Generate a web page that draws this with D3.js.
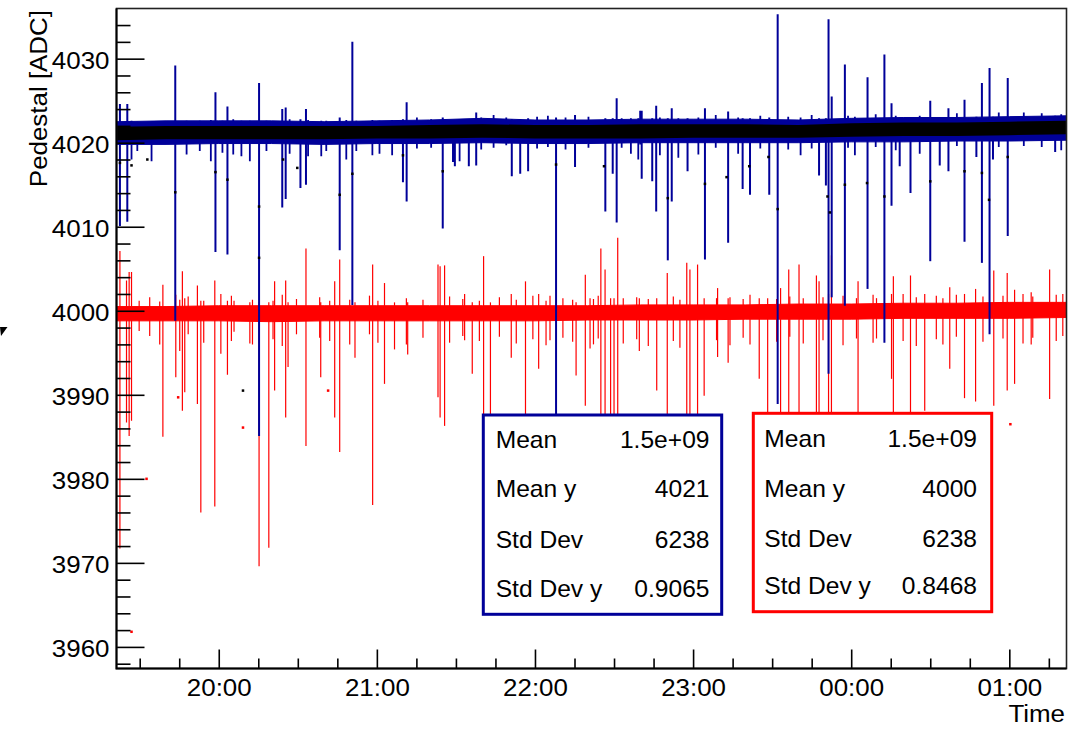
<!DOCTYPE html>
<html>
<head>
<meta charset="utf-8">
<script src="https://cdn.jsdelivr.net/npm/d3@7"></script>
<style>
body { margin: 0; background: #fff; }
text { font-family: "Liberation Sans", Arial, Helvetica, sans-serif; fill: #000; }
</style>
</head>
<body>
<svg id="main_svg" width="1081" height="730"></svg>
<script>
// times are minutes after 20:00, values in ADC
// band: [t, outer lo, core lo, core hi, outer hi]
var blueBand = [
  [-39, 4019.8, 4020.3, 4021.9, 4022.5], [-20, 4019.8, 4020.4, 4022.0, 4022.6],
  [0, 4019.9, 4020.4, 4022.0, 4022.6], [20, 4019.9, 4020.4, 4022.0, 4022.6],
  [40, 4019.8, 4020.4, 4022.0, 4022.5], [60, 4019.9, 4020.5, 4022.0, 4022.6],
  [80, 4019.9, 4020.5, 4022.1, 4022.7], [100, 4020.0, 4020.6, 4022.2, 4022.9],
  [120, 4019.9, 4020.5, 4022.1, 4022.7], [140, 4019.9, 4020.5, 4022.1, 4022.7],
  [160, 4020.0, 4020.5, 4022.2, 4022.8], [180, 4020.0, 4020.6, 4022.2, 4022.8],
  [200, 4020.0, 4020.6, 4022.2, 4022.8], [220, 4020.0, 4020.6, 4022.1, 4022.7],
  [240, 4020.1, 4020.7, 4022.3, 4022.9], [260, 4020.1, 4020.8, 4022.4, 4023.0],
  [280, 4020.2, 4020.8, 4022.4, 4023.0], [300, 4020.2, 4020.9, 4022.5, 4023.1],
  [322, 4020.3, 4021.0, 4022.6, 4023.2]
];
// [t, lo, hi]
var redBand = [
  [-39, 3998.8, 4000.5], [-20, 3998.8, 4000.5], [0, 3998.8, 4000.6], [20, 3998.7, 4000.6],
  [40, 3998.8, 4000.6], [60, 3998.8, 4000.6], [80, 3998.8, 4000.6], [100, 3998.8, 4000.6],
  [120, 3998.8, 4000.6], [140, 3998.9, 4000.6], [160, 3998.9, 4000.7], [180, 3998.9, 4000.7],
  [200, 3999.0, 4000.7], [220, 3999.0, 4000.8], [240, 3999.0, 4000.8], [260, 3999.1, 4000.9],
  [280, 3999.1, 4000.9], [300, 3999.1, 4001.0], [322, 3999.2, 4001.0]
];
// error bars sticking out of the band: [t, lo, hi]
var blueSpikes = [
  [-37.5, 4010.1, 4024.6], [-34.7, 4010.6, 4024.6], [-16.5, 3998.8, 4029.2], [-1.25, 4007.0, 4026.0],
  [3.3, 4006.7, 4024.3], [15.3, 3985.1, 4027.1], [24.1, 4012.3, 4024.0], [25.4, 4013.3, 4024.2],
  [31.0, 4014.6, 4022.8], [33.1, 4015.0, 4024.0], [45.9, 4007.2, 4023.0], [50.7, 4000.7, 4032.0],
  [69.9, 4015.3, 4022.8], [71.3, 4013.0, 4024.8], [85.0, 4009.8, 4023.0], [88.9, 4017.7, 4022.7],
  [89.6, 4017.2, 4022.7], [94.9, 4017.2, 4022.8], [97.7, 4017.3, 4023.6], [111.2, 4016.0, 4022.8],
  [114.4, 4016.3, 4022.8], [117.4, 4016.6, 4022.9], [128.0, 3985.0, 4023.0], [135.2, 4017.1, 4023.3],
  [146.7, 4011.8, 4022.9], [149.5, 4016.3, 4022.9], [151.0, 4010.5, 4025.3], [160.5, 4015.7, 4023.8],
  [164.5, 4015.4, 4022.9], [166.0, 4011.8, 4024.4], [170.4, 4006.0, 4022.9], [171.9, 4013.0, 4024.1],
  [177.9, 4016.6, 4022.9], [184.5, 4006.1, 4024.1], [193.3, 4008.1, 4023.7], [198.8, 4014.5, 4022.9],
  [201.6, 4013.8, 4022.9], [208.9, 4013.8, 4023.0], [212.1, 3988.9, 4035.3], [227.8, 4016.1, 4022.9],
  [230.4, 4014.9, 4022.9], [231.4, 3992.5, 4034.7], [232.6, 4001.6, 4025.5], [237.6, 4000.6, 4029.3],
  [246.2, 4002.6, 4027.8], [252.6, 3996.2, 4030.5], [255.3, 4012.5, 4024.7], [258.4, 4017.2, 4023.0],
  [262.5, 4014.0, 4023.0], [270.0, 4005.9, 4025.0], [273.6, 4017.3, 4023.0], [276.9, 4016.6, 4024.1],
  [283.0, 4008.2, 4025.1], [287.5, 4018.3, 4023.1], [289.6, 4005.7, 4027.1], [292.5, 3997.2, 4028.9],
  [293.8, 4018.0, 4023.1], [299.4, 4008.9, 4027.7], [317.4, 4018.9, 4023.2]
];
var blueMinor = [
  [-33.1, 4018.0, 4022.6], [-30.9, 4019.0, 4022.5], [-25.5, 4017.8, 4022.5], [-12.2, 4018.6, 4022.6],
  [-7.2, 4019.0, 4022.6], [-3.0, 4017.8, 4022.7], [1.4, 4018.8, 4022.6], [5.5, 4018.6, 4022.8],
  [8.6, 4018.4, 4022.6], [11.8, 4017.8, 4022.6], [18.1, 4019.0, 4022.6], [26.9, 4018.7, 4022.8],
  [33.9, 4018.4, 4022.7], [38.9, 4018.4, 4022.6], [40.8, 4019.0, 4022.6], [48.4, 4018.0, 4022.7],
  [52.2, 4019.0, 4022.6], [58.3, 4018.5, 4022.7], [61.0, 4018.7, 4022.6], [65.8, 4018.5, 4022.7],
  [75.2, 4019.3, 4023.0], [80.6, 4019.4, 4022.8], [91.4, 4017.8, 4022.8], [99.6, 4019.2, 4023.0],
  [104.3, 4019.4, 4023.3], [109.1, 4019.7, 4023.0], [120.8, 4019.3, 4023.1], [124.9, 4019.5, 4023.2],
  [131.6, 4019.2, 4023.0], [140.3, 4019.4, 4023.1],
  [152.9, 4019.4, 4022.9], [156.4, 4018.7, 4022.9], [159.2, 4018.0, 4022.9], [159.9, 4019.8, 4023.8],
  [167.4, 4018.5, 4023.0], [174.4, 4018.2, 4022.9], [182.0, 4018.6, 4023.0], [188.6, 4019.4, 4023.3],
  [197.1, 4018.7, 4023.0], [205.5, 4019.3, 4023.2], [216.1, 4019.2, 4023.1], [220.8, 4018.5, 4023.0],
  [225.0, 4019.3, 4023.3], [238.8, 4019.4, 4023.2], [241.4, 4018.5, 4023.1], [249.3, 4019.5, 4023.4],
  [256.9, 4019.1, 4023.2], [266.0, 4018.7, 4023.2], [280.1, 4019.6, 4023.5], [296.0, 4019.5, 4023.6],
  [305.5, 4019.6, 4023.6], [312.3, 4019.5, 4023.5], [319.7, 4019.1, 4023.4]
];
// [t, value]
var blueMarkers = [
  [-37.5, 4017.6], [-33.1, 4017.3], [-27.1, 4018.0], [-16.5, 4014.1], [-1.25, 4016.5], [3.3, 4015.6],
  [9.2, 3990.5], [15.3, 4012.4], [15.3, 4006.3], [24.4, 4018.0], [29.8, 4017.0], [45.9, 4013.8],
  [50.7, 4016.3], [69.9, 4018.5], [85.0, 4016.6], [128.0, 4017.4], [146.2, 4017.2], [170.4, 4013.4],
  [184.5, 4015.1], [192.7, 4015.9], [201.3, 4017.2], [208.6, 4018.3], [212.1, 4012.1], [231.0, 4013.6],
  [231.9, 4011.7], [237.6, 4015.0], [246.0, 4015.2], [252.6, 4013.6], [270.0, 4015.4], [283.0, 4016.6],
  [289.6, 4016.4], [292.3, 4013.2], [299.4, 4018.3]
];
var redSpikes = [
  [-37.5, 3971.7, 4007.1], [-35.0, 3986.7, 4003.6], [-34.0, 3985.1, 4004.6], [-33.1, 3986.9, 4004.6],
  [-21.2, 3985.0, 4003.1], [-16.3, 3992.1, 4001.9], [-13.8, 3988.1, 4004.7], [-12.9, 3990.3, 4001.5],
  [-8.1, 3988.9, 4003.0], [-6.8, 3976.0, 4001.2], [-1.5, 3976.7, 4003.6], [0.8, 3994.9, 4002.0],
  [3.3, 3992.4, 4001.2], [5.8, 3997.5, 4001.2], [11.8, 3996.1, 4001.0], [15.3, 3969.6, 4001.0],
  [19.0, 3971.8, 4001.0], [21.2, 3990.5, 4003.5], [25.4, 3987.3, 4003.6], [26.3, 3993.3, 4001.0],
  [33.1, 3983.9, 4007.4], [38.7, 3992.1, 4001.0], [44.0, 3987.3, 4003.5], [45.9, 3983.2, 4006.1],
  [51.7, 3994.4, 4001.0], [58.4, 3976.9, 4005.5], [62.9, 3991.3, 4003.3], [66.7, 3995.4, 4001.0],
  [71.7, 3994.8, 4001.0], [83.2, 3989.7, 4005.5], [84.0, 3987.3, 4005.3], [85.7, 3986.3, 4005.4],
  [93.3, 3996.5, 4002.0], [96.2, 3992.5, 4001.0], [100.5, 3987.7, 4006.5], [103.1, 3985.0, 4001.0],
  [111.0, 3994.4, 4002.0], [116.4, 3985.0, 4003.5], [121.4, 3993.1, 4002.0], [125.7, 3996.5, 4001.8],
  [135.6, 3992.3, 4001.0], [139.1, 3988.7, 4004.3], [140.9, 3995.5, 4001.5], [145.0, 3985.0, 4007.4],
  [146.6, 3985.0, 4004.9], [148.7, 3985.0, 4001.5], [150.0, 3985.0, 4001.5], [151.4, 3985.0, 4008.7],
  [159.6, 3995.2, 4001.5], [166.2, 3990.5, 4001.5], [170.2, 3985.0, 4004.5], [177.6, 3985.0, 4005.7],
  [178.8, 3985.0, 4004.9], [181.7, 3985.0, 4005.5], [184.2, 3989.9, 4001.5], [189.3, 3994.5, 4002.7],
  [193.3, 3993.8, 4001.5], [205.1, 3991.9, 4001.5], [208.3, 3985.0, 4001.5], [213.2, 3985.0, 4002.7],
  [216.3, 3985.0, 4004.9], [220.2, 3985.0, 4005.5], [226.8, 3985.0, 4004.2], [227.8, 3985.0, 4003.5],
  [231.4, 3985.0, 4002.0], [232.5, 3985.0, 4006.6], [242.6, 3985.0, 4003.5], [249.6, 3996.7, 4001.5],
  [255.3, 3991.9, 4002.0], [256.0, 3985.0, 4004.1], [262.5, 3985.0, 4004.2], [267.9, 3988.1, 4002.0],
  [277.4, 3993.1, 4002.8], [283.0, 3989.6, 4002.0], [287.2, 3989.2, 4002.6], [294.1, 3988.7, 4004.8],
  [299.2, 3990.5, 4004.5], [302.0, 3991.3, 4002.5], [308.3, 3996.0, 4002.2], [315.3, 3989.5, 4004.9],
  [320.3, 3997.0, 4002.0]
];
// short red error bars around the band
var redMinor = [
  [-30.2, 3997.6, 4001.2], [-26.2, 3997.0, 4001.6], [-22.4, 3996.0, 4001.1], [-14.8, 3995.2, 4001.3],
  [-11.6, 3997.2, 4001.7], [-5.7, 3996.2, 4001.2], [4.8, 3996.4, 4001.8], [12.8, 3996.0, 4001.3],
  [20.6, 3996.6, 4001.2], [24.1, 3995.8, 4001.9], [29.5, 3997.2, 4001.4], [38.3, 3996.8, 4001.6],
  [42.1, 3996.4, 4001.2], [49.7, 3996.0, 4001.3], [57.2, 3997.2, 4001.8], [60.4, 3996.2, 4001.2],
  [71.2, 3996.0, 4001.5], [77.5, 3996.8, 4001.3], [87.6, 3996.2, 4001.7], [92.6, 3997.0, 4001.4],
  [98.9, 3996.4, 4001.2], [106.5, 3996.9, 4001.6], [112.9, 3996.1, 4001.3], [119.2, 3996.6, 4001.8],
  [124.2, 3995.9, 4001.2], [130.6, 3996.8, 4001.5], [134.3, 3996.3, 4001.3], [142.2, 3996.0, 4001.4],
  [144.0, 3996.7, 4001.8], [153.5, 3996.1, 4001.5], [158.6, 3996.6, 4001.6], [163.0, 3995.8, 4001.4],
  [172.5, 3996.4, 4001.7], [175.0, 3995.6, 4001.3], [188.9, 3996.5, 4001.5], [194.0, 3995.9, 4001.6],
  [199.0, 3996.8, 4001.4], [201.6, 3996.0, 4001.9], [211.7, 3996.3, 4001.4], [216.7, 3996.9, 4001.7],
  [221.8, 3996.1, 4001.5], [229.3, 3996.5, 4001.6], [236.9, 3995.9, 4001.8], [242.0, 3996.7, 4001.5],
  [248.3, 3996.2, 4001.9], [259.7, 3996.4, 4002.0], [264.7, 3995.8, 4001.6], [272.3, 3996.6, 4001.8],
  [274.8, 3996.0, 4001.5], [279.9, 3996.9, 4001.9], [290.0, 3996.3, 4001.7], [297.6, 3996.7, 4001.8],
  [305.2, 3996.1, 4002.0], [308.9, 3996.8, 4001.7], [317.8, 3996.4, 4001.9]
];
var redMarkers = [
  [-33.1, 3961.8], [-27.4, 3980.0], [-15.4, 3989.7], [9.2, 3986.1], [41.5, 3990.5], [300.4, 3986.5]
];

var yTicks = [3960, 3970, 3980, 3990, 4000, 4010, 4020, 4030];
var xTicks = [0, 60, 120, 180, 240, 300];
var xTickLabels = ["20:00", "21:00", "22:00", "23:00", "00:00", "01:00"];

var statLabels = ["Mean", "Mean y", "Std Dev", "Std Dev y"];
var blueStats = ["1.5e+09", "4021", "6238", "0.9065"];
var redStats = ["1.5e+09", "4000", "6238", "0.8468"];

var blueColor = "#000099", redColor = "#ff0000";
var textScale = 1.08;
var frame = {left: 116.5, right: 1066.5, top: 8.5, bottom: 668.5};
var base = Date.UTC(2017, 6, 13, 20, 0, 0);
function toDate(m) { return new Date(base + m * 60000); }

var svg = d3.select("#main_svg");
svg.append("rect").attr("width", 1081).attr("height", 730).attr("fill", "#fff");

var x = d3.scaleUtc().domain([toDate(-38.8), toDate(321.7)]).range([frame.left, frame.right]);
var y = d3.scaleLinear().domain([3957.43, 4035.97]).range([frame.bottom, frame.top]);

svg.append("clipPath").attr("id", "clip")
  .append("rect")
  .attr("x", frame.left).attr("y", frame.top)
  .attr("width", frame.right - frame.left).attr("height", frame.bottom - frame.top);

var plot = svg.append("g").attr("clip-path", "url(#clip)");

function bars(data, color, w) {
  plot.append("g").selectAll("line")
    .data(data).enter().append("line")
    .attr("x1", function(d) { return x(toDate(d[0])); })
    .attr("x2", function(d) { return x(toDate(d[0])); })
    .attr("y1", function(d) { return y(d[1]); })
    .attr("y2", function(d) { return y(d[2]); })
    .attr("stroke", color)
    .attr("stroke-width", w);
}
function dots(data, color, s) {
  plot.append("g").selectAll("rect")
    .data(data).enter().append("rect")
    .attr("x", function(d) { return x(toDate(d[0])) - s / 2; })
    .attr("y", function(d) { return y(d[1]) - s / 2; })
    .attr("width", s).attr("height", s)
    .attr("fill", color);
}

// red graph first
bars(redMinor, redColor, 1.2);
bars(redSpikes, redColor, 1.2);
plot.append("path").datum(redBand)
  .attr("d", d3.area()
    .x(function(d) { return x(toDate(d[0])); })
    .y0(function(d) { return y(d[1]); })
    .y1(function(d) { return y(d[2]); }))
  .attr("fill", redColor).attr("stroke", redColor).attr("stroke-width", 1);
dots(redMarkers, redColor, 2.5);

// blue graph, black markers
bars(blueMinor, blueColor, 1.8);
bars(blueSpikes, blueColor, 2);
plot.append("path").datum(blueBand)
  .attr("d", d3.area()
    .x(function(d) { return x(toDate(d[0])); })
    .y0(function(d) { return y(d[1]); })
    .y1(function(d) { return y(d[4]); }))
  .attr("fill", blueColor).attr("stroke", blueColor).attr("stroke-width", 1);
plot.append("path").datum(blueBand)
  .attr("d", d3.area()
    .x(function(d) { return x(toDate(d[0])); })
    .y0(function(d) { return y(d[2]); })
    .y1(function(d) { return y(d[3]); }))
  .attr("fill", "#000");
dots(blueMarkers, "#000", 2.5);

// axes, ticks inside the frame like ROOT
var yMinor = d3.range(3958, 4036, 2).filter(function(v) { return v % 10 != 0; });
svg.append("g").attr("transform", "translate(" + frame.left + ",0)")
  .call(d3.axisLeft(y).tickValues(yMinor).tickSize(-14).tickFormat(""))
  .call(function(g) { g.select(".domain").remove(); });
var yAxis = svg.append("g").attr("transform", "translate(" + frame.left + ",0)")
  .call(d3.axisLeft(y).tickValues(yTicks).tickSize(-28).tickPadding(6.5).tickFormat(d3.format("d")))
  .call(function(g) { g.select(".domain").remove(); });

var xMinor = [];
for (var m = -30; m <= 315; m += 15) { if (m % 60 != 0) xMinor.push(toDate(m)); }
svg.append("g").attr("transform", "translate(0," + frame.bottom + ")")
  .call(d3.axisBottom(x).tickValues(xMinor).tickSize(-10).tickFormat(""))
  .call(function(g) { g.select(".domain").remove(); });
var xAxis = svg.append("g").attr("transform", "translate(0," + frame.bottom + ")")
  .call(d3.axisBottom(x).tickValues(xTicks.map(toDate)).tickSize(-19).tickPadding(10.5)
    .tickFormat(function(d, i) { return xTickLabels[i]; }))
  .call(function(g) { g.select(".domain").remove(); });

svg.selectAll(".tick line").attr("stroke", "#000").attr("stroke-width", 1.6);
[yAxis, xAxis].forEach(function(a) {
  a.selectAll("text")
    .attr("font-size", 24)
    .attr("font-family", "Liberation Sans, Arial, sans-serif")
    .attr("fill", "#000");
});
yAxis.selectAll("text").attr("dy", "0.42em")
  .attr("transform", "scale(" + textScale + ",1)");
xAxis.selectAll("text").attr("transform", "scale(" + textScale + ",1)");

// frame
svg.append("rect")
  .attr("x", frame.left).attr("y", frame.top)
  .attr("width", frame.right - frame.left).attr("height", frame.bottom - frame.top)
  .attr("fill", "none").attr("stroke", "#222").attr("stroke-width", 1.6);
svg.append("path")
  .attr("d", "M" + frame.left + "," + frame.top + "V" + frame.bottom + "H" + frame.right)
  .attr("fill", "none").attr("stroke", "#000").attr("stroke-width", 2);

// axis titles
svg.append("text")
  .attr("transform", "translate(47,10) rotate(-90) scale(" + textScale + ",1)")
  .attr("text-anchor", "end").attr("font-size", 24)
  .text("Pedestal [ADC]");
svg.append("text")
  .attr("transform", "translate(1065,722) scale(" + textScale + ",1)")
  .attr("text-anchor", "end").attr("font-size", 24)
  .text("Time");

// little marker at the left border
svg.append("path").attr("d", "M0,327 L7.5,327 L1,336 Z").attr("fill", "#000");

// stats boxes
function stats_box(bx, by, bw, bh, color, values, labelX, valueX, baselines) {
  var g = svg.append("g");
  g.append("rect")
    .attr("x", bx).attr("y", by).attr("width", bw).attr("height", bh)
    .attr("fill", "#fff").attr("stroke", color).attr("stroke-width", 3);
  statLabels.forEach(function(lab, i) {
    g.append("text")
      .attr("transform", "translate(" + labelX + "," + baselines[i] + ") scale(1.07,1)")
      .attr("font-size", 23).text(lab);
    g.append("text")
      .attr("transform", "translate(" + valueX + "," + baselines[i] + ") scale(1.07,1)")
      .attr("text-anchor", "end").attr("font-size", 23).text(values[i]);
  });
}
stats_box(483.3, 415, 238.4, 199.3, blueColor, blueStats, 495.7, 709.5, [448.3, 497.3, 547.7, 596.7]);
stats_box(753.3, 413.3, 238.4, 198.4, redColor, redStats, 764.3, 977, [446.7, 496.7, 546.7, 594.3]);
</script>
</body>
</html>
